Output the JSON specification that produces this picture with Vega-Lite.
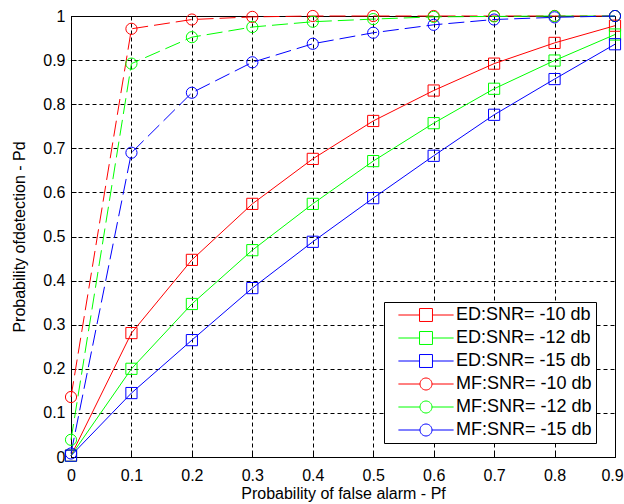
{
  "$schema": "https://vega.github.io/schema/vega-lite/v6.json",
  "autosize": "none",
  "width": 544,
  "height": 441,
  "padding": {"left": 71, "top": 16, "right": 9, "bottom": 47},
  "background": "white",
  "config": {
    "font": "Liberation Sans",
    "view": {"stroke": "black", "strokeWidth": 1},
    "axis": {
      "labelFont": "Liberation Sans",
      "titleFont": "Liberation Sans",
      "labelFontSize": 16,
      "titleFontSize": 16,
      "titleFontWeight": "normal",
      "labelColor": "black",
      "titleColor": "black",
      "domainColor": "black",
      "tickColor": "black",
      "labelFlush": false,
      "grid": true,
      "gridColor": "black",
      "gridDash": [4, 3],
      "gridOpacity": 1,
      "gridWidth": 1
    }
  },
  "data": {
    "values": [
      {"pf": 0.0, "pd": 0.003, "series": "ED:SNR= -10 db"},
      {"pf": 0.1, "pd": 0.281, "series": "ED:SNR= -10 db"},
      {"pf": 0.2, "pd": 0.447, "series": "ED:SNR= -10 db"},
      {"pf": 0.3, "pd": 0.574, "series": "ED:SNR= -10 db"},
      {"pf": 0.4, "pd": 0.676, "series": "ED:SNR= -10 db"},
      {"pf": 0.5, "pd": 0.762, "series": "ED:SNR= -10 db"},
      {"pf": 0.6, "pd": 0.831, "series": "ED:SNR= -10 db"},
      {"pf": 0.7, "pd": 0.892, "series": "ED:SNR= -10 db"},
      {"pf": 0.8, "pd": 0.939, "series": "ED:SNR= -10 db"},
      {"pf": 0.9, "pd": 0.978, "series": "ED:SNR= -10 db"},
      {"pf": 0.0, "pd": 0.003, "series": "ED:SNR= -12 db"},
      {"pf": 0.1, "pd": 0.2, "series": "ED:SNR= -12 db"},
      {"pf": 0.2, "pd": 0.347, "series": "ED:SNR= -12 db"},
      {"pf": 0.3, "pd": 0.469, "series": "ED:SNR= -12 db"},
      {"pf": 0.4, "pd": 0.574, "series": "ED:SNR= -12 db"},
      {"pf": 0.5, "pd": 0.671, "series": "ED:SNR= -12 db"},
      {"pf": 0.6, "pd": 0.757, "series": "ED:SNR= -12 db"},
      {"pf": 0.7, "pd": 0.835, "series": "ED:SNR= -12 db"},
      {"pf": 0.8, "pd": 0.899, "series": "ED:SNR= -12 db"},
      {"pf": 0.9, "pd": 0.958, "series": "ED:SNR= -12 db"},
      {"pf": 0.0, "pd": 0.003, "series": "ED:SNR= -15 db"},
      {"pf": 0.1, "pd": 0.145, "series": "ED:SNR= -15 db"},
      {"pf": 0.2, "pd": 0.265, "series": "ED:SNR= -15 db"},
      {"pf": 0.3, "pd": 0.383, "series": "ED:SNR= -15 db"},
      {"pf": 0.4, "pd": 0.488, "series": "ED:SNR= -15 db"},
      {"pf": 0.5, "pd": 0.587, "series": "ED:SNR= -15 db"},
      {"pf": 0.6, "pd": 0.683, "series": "ED:SNR= -15 db"},
      {"pf": 0.7, "pd": 0.776, "series": "ED:SNR= -15 db"},
      {"pf": 0.8, "pd": 0.857, "series": "ED:SNR= -15 db"},
      {"pf": 0.9, "pd": 0.936, "series": "ED:SNR= -15 db"},
      {"pf": 0.0, "pd": 0.136, "series": "MF:SNR= -10 db"},
      {"pf": 0.1, "pd": 0.971, "series": "MF:SNR= -10 db"},
      {"pf": 0.2, "pd": 0.992, "series": "MF:SNR= -10 db"},
      {"pf": 0.3, "pd": 0.998, "series": "MF:SNR= -10 db"},
      {"pf": 0.4, "pd": 1.0, "series": "MF:SNR= -10 db"},
      {"pf": 0.5, "pd": 1.0, "series": "MF:SNR= -10 db"},
      {"pf": 0.6, "pd": 1.0, "series": "MF:SNR= -10 db"},
      {"pf": 0.7, "pd": 1.0, "series": "MF:SNR= -10 db"},
      {"pf": 0.8, "pd": 1.0, "series": "MF:SNR= -10 db"},
      {"pf": 0.9, "pd": 1.0, "series": "MF:SNR= -10 db"},
      {"pf": 0.0, "pd": 0.039, "series": "MF:SNR= -12 db"},
      {"pf": 0.1, "pd": 0.892, "series": "MF:SNR= -12 db"},
      {"pf": 0.2, "pd": 0.952, "series": "MF:SNR= -12 db"},
      {"pf": 0.3, "pd": 0.975, "series": "MF:SNR= -12 db"},
      {"pf": 0.4, "pd": 0.987, "series": "MF:SNR= -12 db"},
      {"pf": 0.5, "pd": 0.993, "series": "MF:SNR= -12 db"},
      {"pf": 0.6, "pd": 0.998, "series": "MF:SNR= -12 db"},
      {"pf": 0.7, "pd": 0.999, "series": "MF:SNR= -12 db"},
      {"pf": 0.8, "pd": 1.0, "series": "MF:SNR= -12 db"},
      {"pf": 0.9, "pd": 1.0, "series": "MF:SNR= -12 db"},
      {"pf": 0.0, "pd": 0.008, "series": "MF:SNR= -15 db"},
      {"pf": 0.1, "pd": 0.69, "series": "MF:SNR= -15 db"},
      {"pf": 0.2, "pd": 0.826, "series": "MF:SNR= -15 db"},
      {"pf": 0.3, "pd": 0.895, "series": "MF:SNR= -15 db"},
      {"pf": 0.4, "pd": 0.937, "series": "MF:SNR= -15 db"},
      {"pf": 0.5, "pd": 0.962, "series": "MF:SNR= -15 db"},
      {"pf": 0.6, "pd": 0.98, "series": "MF:SNR= -15 db"},
      {"pf": 0.7, "pd": 0.992, "series": "MF:SNR= -15 db"},
      {"pf": 0.8, "pd": 0.997, "series": "MF:SNR= -15 db"},
      {"pf": 0.9, "pd": 1.0, "series": "MF:SNR= -15 db"}
    ]
  },
  "encoding": {
    "x": {
      "field": "pf",
      "type": "quantitative",
      "scale": {"domain": [0, 0.9], "nice": false, "zero": false},
      "axis": {
        "title": "Probability of false alarm - Pf",
        "values": [0, 0.1, 0.2, 0.3, 0.4, 0.5, 0.6, 0.7, 0.8, 0.9],
        "format": ".1~f",
        "tickSize": -5,
        "labelPadding": 15,
        "labelOffset": {"expr": "datum.value > 0.85 ? -3 : 0"},
        "titleX": 272,
        "titleY": 41,
        "titleBaseline": "alphabetic"
      }
    },
    "y": {
      "field": "pd",
      "type": "quantitative",
      "scale": {"domain": [0, 1], "nice": false, "zero": false},
      "axis": {
        "title": "Probability ofdetection - Pd",
        "values": [0, 0.1, 0.2, 0.3, 0.4, 0.5, 0.6, 0.7, 0.8, 0.9, 1],
        "format": ".1~f",
        "tickSize": -5,
        "labelPadding": 11,
        "titleX": -47,
        "titleY": 220.5,
        "titleBaseline": "alphabetic",
        "titleAlign": "center"
      }
    },
    "color": {
      "field": "series",
      "type": "nominal",
      "scale": {
        "domain": ["ED:SNR= -10 db", "ED:SNR= -12 db", "ED:SNR= -15 db", "MF:SNR= -10 db", "MF:SNR= -12 db", "MF:SNR= -15 db"],
        "range": ["#ff0000", "#00ff00", "#0000ff", "#ff0000", "#00ff00", "#0000ff"]
      },
      "legend": {
        "title": null,
        "orient": "none",
        "legendX": 313,
        "legendY": 286,
        "padding": 4,
        "strokeColor": "black",
        "fillColor": "white",
        "cornerRadius": 0,
        "labelFont": "Liberation Sans",
        "labelFontSize": 18,
        "labelColor": "black",
        "labelExpr": "datum.label + '    '",
        "symbolSize": 144,
        "symbolStrokeWidth": 1,
        "symbolFillColor": "transparent",
        "symbolOffset": 29,
        "labelOffset": 21,
        "rowPadding": 5
      }
    }
  },
  "layer": [
    {
      "transform": [{"filter": "indexof(datum.series, 'ED') == 0"}],
      "mark": {"type": "line", "strokeWidth": 1},
      "encoding": {"detail": {"field": "series"}}
    },
    {
      "transform": [{"filter": "indexof(datum.series, 'MF') == 0"}],
      "mark": {"type": "line", "strokeWidth": 1, "strokeDash": [16, 6]},
      "encoding": {"detail": {"field": "series"}}
    },
    {
      "transform": [{"filter": "indexof(datum.series, 'ED') == 0"}],
      "mark": {"type": "point", "shape": "square", "filled": false, "strokeWidth": 1, "size": 125, "opacity": 1}
    },
    {
      "transform": [{"filter": "indexof(datum.series, 'MF') == 0"}],
      "mark": {"type": "point", "shape": "circle", "filled": false, "strokeWidth": 1, "size": 125, "opacity": 1}
    },
    {
      "transform": [{"filter": "datum.pf > 5"}],
      "mark": {"type": "point", "filled": false, "strokeWidth": 1, "opacity": 1},
      "encoding": {
        "shape": {
          "field": "series",
          "type": "nominal",
          "scale": {
            "domain": ["ED:SNR= -10 db", "ED:SNR= -12 db", "ED:SNR= -15 db", "MF:SNR= -10 db", "MF:SNR= -12 db", "MF:SNR= -15 db"],
            "range": [
              "M-4.6,0H-1.08M1.08,0H4.6M-1.08,-1.08H1.08V1.08H-1.08Z",
              "M-4.6,0H-1.08M1.08,0H4.6M-1.08,-1.08H1.08V1.08H-1.08Z",
              "M-4.6,0H-1.08M1.08,0H4.6M-1.08,-1.08H1.08V1.08H-1.08Z",
              "M-4.6,0H-1M1,0H4.6M1,0A1,1,0,1,1,-1,0A1,1,0,1,1,1,0Z",
              "M-4.6,0H-1M1,0H4.6M1,0A1,1,0,1,1,-1,0A1,1,0,1,1,1,0Z",
              "M-4.6,0H-1M1,0H4.6M1,0A1,1,0,1,1,-1,0A1,1,0,1,1,1,0Z"
            ]
          }
        }
      }
    }
  ]
}
